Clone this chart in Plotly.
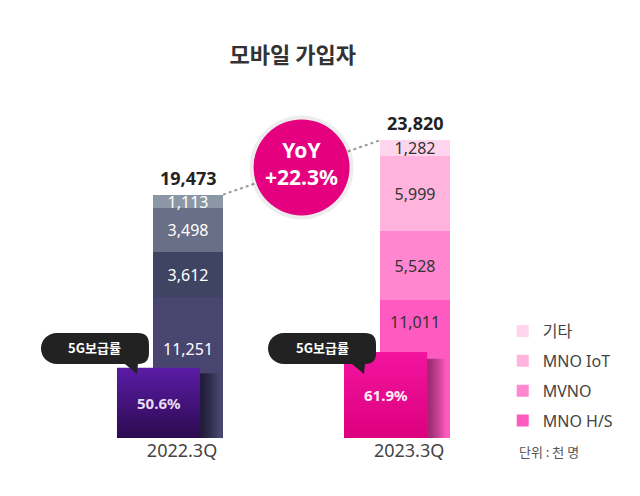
import plotly.graph_objects as go

# 모바일 가입자 (단위: 천 명)
quarters = ["2022.3Q", "2023.3Q"]
segments = ["MNO H/S", "MVNO", "MNO IoT", "기타"]
subs_2022 = [11251, 3612, 3498, 1113]
subs_2023 = [11011, 5528, 5999, 1282]
totals = [19473, 23820]
rate_5g = [50.6, 61.9]

colors_2022 = ["#48456f", "#3f4462", "#6a6f88", "#8b97a5"]
colors_2023 = ["#ff5ac0", "#ff86cf", "#ffb3dd", "#ffd5ed"]
box_grad = [["#2c0a4f", "#5a1ca6"], ["#dc007e", "#f3149f"]]
shadow_col = ["rgba(15,10,35,0.75)", "rgba(90,0,55,0.6)"]
box_text_col = ["#e6dcf5", "#fff0f8"]
bottom_label_shift = [-52, -22]

pos = [0, 1]
bar_w = 0.308
box_off, box_w = -0.313, 0.366

NUM_FONT = "Noto Sans, Noto Sans CJK KR, sans-serif"
KR_FONT = "Noto Sans CJK KR, Noto Sans, sans-serif"

fig = go.Figure()

series = [(subs_2022, colors_2022, "white"), (subs_2023, colors_2023, "#333333")]
for i, name in enumerate(segments):
    for j, (vals, cols, tc) in enumerate(series):
        fig.add_trace(go.Bar(
            x=[pos[j]], y=[vals[i]], width=bar_w, name=name, legendgroup=name,
            legendrank=1000 - i, showlegend=(j == 1),
            marker=dict(color=cols[i], line_width=0),
            text=[f"{vals[i]:,}"] if i > 0 else None, textposition="inside",
            insidetextanchor="middle",
            textfont=dict(color=tc, size=16, family=NUM_FONT),
            hoverinfo="skip"))

# dotted connector between totals
fig.add_trace(go.Scatter(
    x=[pos[0] + bar_w / 2, pos[1] - bar_w / 2], y=totals, mode="lines",
    line=dict(color="#9a9a9a", width=2, dash="dot"), showlegend=False, hoverinfo="skip"))

mid_x = (pos[0] + pos[1]) / 2
mid_y = sum(totals) / 2
fig.add_trace(go.Scatter(
    x=[mid_x], y=[mid_y], mode="markers",
    marker=dict(size=104, color="rgba(0,0,0,0.07)", line_width=0),
    showlegend=False, hoverinfo="skip"))
fig.add_trace(go.Scatter(
    x=[mid_x], y=[mid_y], mode="markers",
    marker=dict(size=96, color="#e4007f", line_width=0),
    showlegend=False, hoverinfo="skip"))

yoy = (totals[1] / totals[0] - 1) * 100

# 5G 보급률 boxes
for j in range(2):
    x0 = pos[j] + box_off
    x1 = x0 + box_w
    r = rate_5g[j]
    fig.add_trace(go.Scatter(
        x=[x1, x1 + 0.085, x1 + 0.085, x1, x1], y=[0, 0, r * 0.92, r * 0.92, 0],
        yaxis="y2", mode="lines", line_width=0, fill="toself",
        fillgradient=dict(type="horizontal",
                          colorscale=[[0, shadow_col[j]], [1, "rgba(0,0,0,0)"]]),
        showlegend=False, hoverinfo="skip"))
    fig.add_trace(go.Scatter(
        x=[x0, x1, x1, x0, x0], y=[0, 0, r, r, 0], yaxis="y2", mode="lines",
        line_width=0, fill="toself",
        fillgradient=dict(type="vertical",
                          colorscale=[[0, box_grad[j][0]], [1, box_grad[j][1]]]),
        showlegend=False, hoverinfo="skip"))

pill_y = 0.207  # paper y of callout bottom edge

annotations = []
for j, vals in enumerate([subs_2022, subs_2023]):
    annotations.append(dict(
        x=pos[j], y=vals[0], xref="x", yref="y", text=f"{vals[0]:,}",
        showarrow=False, yshift=bottom_label_shift[j],
        font=dict(size=16, color=series[j][2], family=NUM_FONT)))
    annotations.append(dict(
        x=pos[j], y=totals[j], xref="x", yref="y", text=f"<b>{totals[j]:,}</b>",
        showarrow=False, yanchor="bottom", yshift=3,
        font=dict(size=18, color="#222222", family=NUM_FONT)))
    x0 = pos[j] + box_off
    annotations.append(dict(
        x=x0 + box_w / 2, y=rate_5g[j] / 2, xref="x", yref="y2",
        text=f"<b>{rate_5g[j]}%</b>", showarrow=False,
        font=dict(size=15, color=box_text_col[j], family=NUM_FONT)))
    annotations.append(dict(
        x=x0, y=pill_y, xref="x", yref="paper", text="<b>5G보급률</b>",
        showarrow=False, xanchor="center", yanchor="middle", xshift=-22, yshift=16,
        font=dict(size=13, color="white", family=KR_FONT)))

annotations.append(dict(
    x=mid_x, y=mid_y, xref="x", yref="y", text=f"<b>YoY<br>+{yoy:.1f}%</b>",
    showarrow=False, yshift=4, font=dict(size=21, color="white", family=NUM_FONT)))
annotations.append(dict(
    x=0.795, y=-0.039, xref="paper", yref="paper", text="단위 : 천 명",
    showarrow=False, xanchor="left", yanchor="middle",
    font=dict(size=13, color="#555555", family=KR_FONT)))

pill = ("M -60,0 L 8,0 L 20,-10 L 21,0 Q 32,0 32,11 L 32,20 Q 32,31 21,31 "
        "L -60,31 C -69,31 -76,24 -76,15.5 C -76,7 -69,0 -60,0 Z")
shapes = []
for j in range(2):
    shapes.append(dict(
        type="path", xref="x", yref="paper", xsizemode="pixel", ysizemode="pixel",
        xanchor=pos[j] + box_off, yanchor=pill_y, path=pill,
        fillcolor="#222222", line_width=0, layer="above"))

fig.update_layout(
    width=640, height=496,
    margin=dict(l=0, r=0, t=72, b=66),
    plot_bgcolor="white", paper_bgcolor="white",
    barmode="stack",
    font=dict(family=KR_FONT),
    title=dict(text="<b>모바일 가입자</b>", x=0.445, y=0.905, xanchor="center",
               yanchor="middle", font=dict(size=22, color="#333333", family=KR_FONT)),
    xaxis=dict(range=[-0.793, 2.026], tickvals=pos, ticktext=quarters,
               showgrid=False, zeroline=False, showline=False, ticks="",
               ticklabelshift=-6,
               tickfont=dict(size=18, color="#444444", family=NUM_FONT)),
    yaxis=dict(range=[0, 28640], visible=False),
    yaxis2=dict(range=[0, 257.6], overlaying="y", visible=False),
    legend=dict(x=0.773, y=0.346, xanchor="left", yanchor="top",
                traceorder="grouped", tracegroupgap=6,
                font=dict(size=16, color="#444444", family=NUM_FONT),
                bgcolor="rgba(0,0,0,0)"),
    uniformtext=dict(minsize=16, mode="show"),
    annotations=annotations,
    shapes=shapes,
    hovermode=False,
)

fig.write_html("out.html")
